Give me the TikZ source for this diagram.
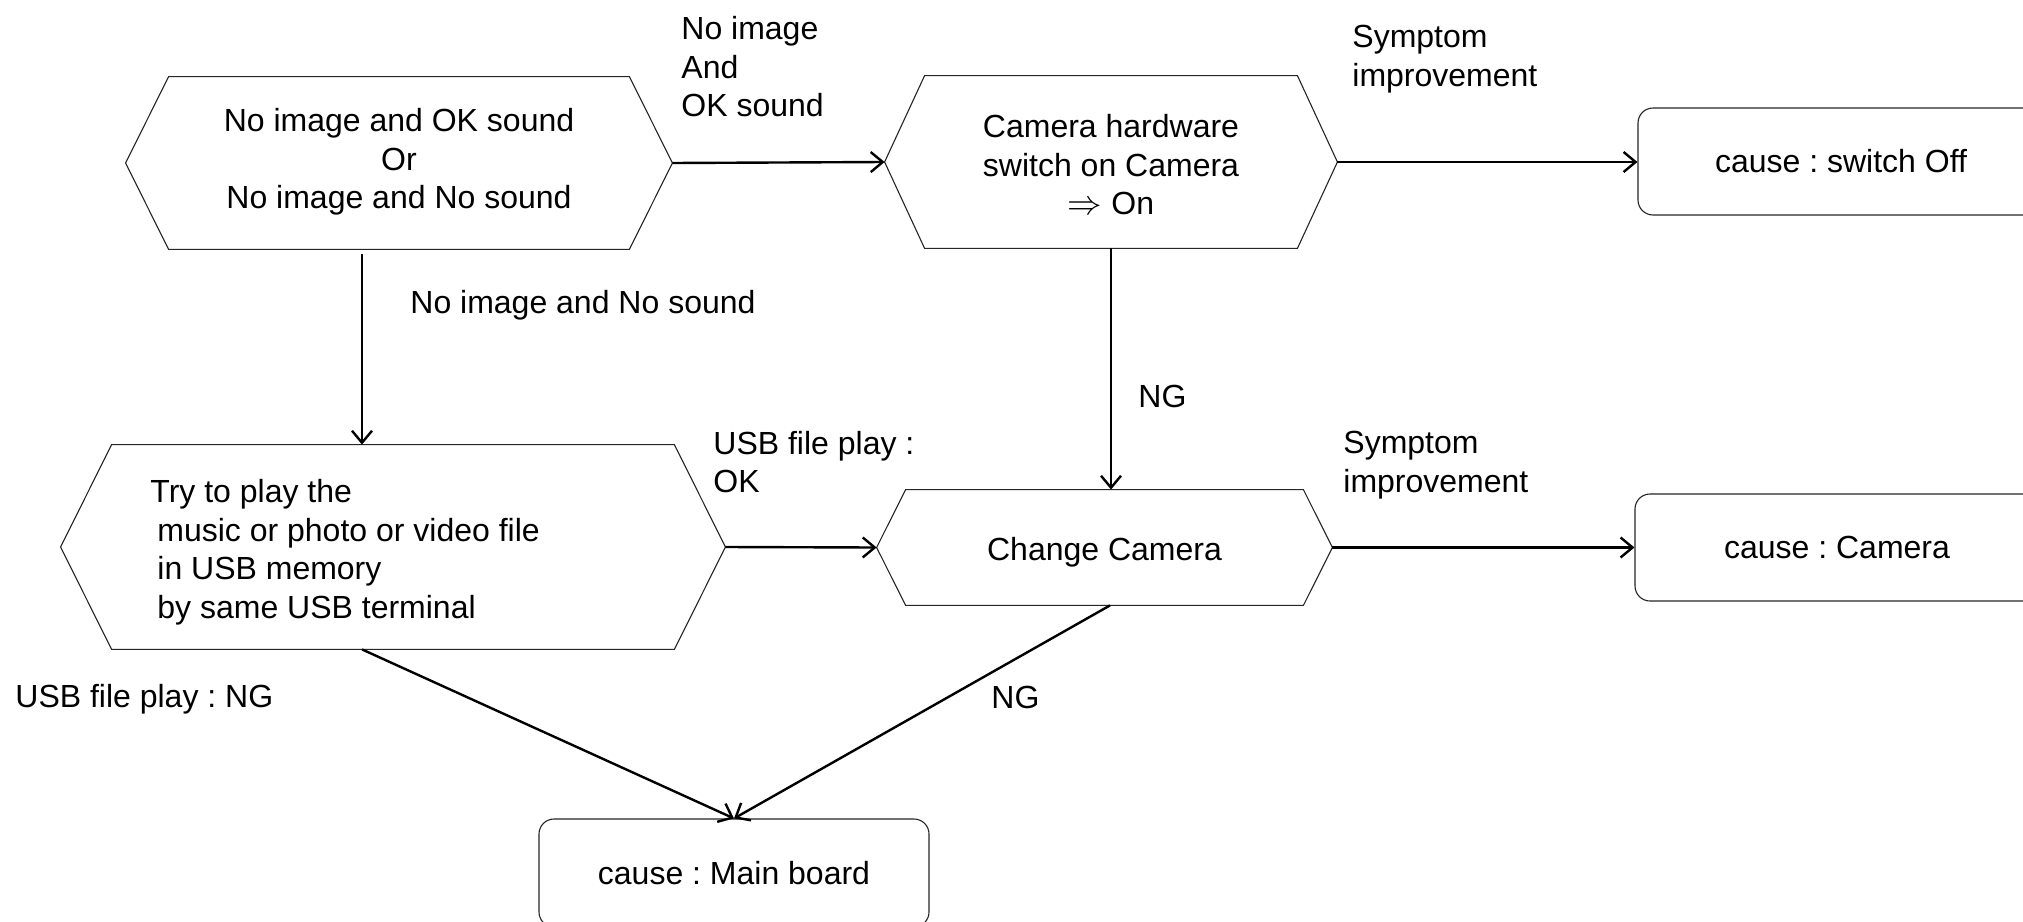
\documentclass[tikz,border=0pt]{standalone}
\usepackage{fontspec}
\setmainfont{Liberation Sans}
\usetikzlibrary{arrows.meta,calc}
\newcommand\hexdraw[2]{\draw[hexline] (#1.west) -- ([xshift=#2]#1.north west) -- ([xshift=-#2]#1.north east) -- (#1.east) -- ([xshift=-#2]#1.south east) -- ([xshift=#2]#1.south west) -- cycle;}
\begin{document}
\frenchspacing
\begin{tikzpicture}[x=0.5pt,y=-0.5pt,
  every node/.style={font=\fontsize{16}{19.25}\selectfont, inner sep=0pt, text=black},
  hexnode/.style={shape=rectangle},
  hexline/.style={draw=black!85, line width=0.55pt},
  causebox/.style={shape=rectangle, draw=black!85, line width=0.55pt, rounded corners=7.5pt, align=center},
  ctext/.style={align=center},
  lbl/.style={anchor=west, align=left},
  arr/.style={draw=black, line width=1.2pt, -{Straight Barb[length=6pt,width=10pt,line width=1.2pt]}}
]
\useasboundingbox[fill=white] (0,0) rectangle (2023,921);

% hexagons
\node[hexnode, minimum width=273pt, minimum height=86pt] (h1) at (399,163) {};
\hexdraw{h1}{21.5pt}
\node[ctext] (h1t) at (399,162) {No image and OK sound\\Or\\No image and No sound};
\node[hexnode, minimum width=226pt, minimum height=86pt] (h2) at (1111,162) {};
\hexdraw{h2}{20pt}
\node[ctext] (h2t) at (1111,165) {Camera hardware\\switch on Camera\\$\Rightarrow$ On};
\node[hexnode, minimum width=332pt, minimum height=102pt] (h3) at (393,547) {};
\hexdraw{h3}{25.5pt}
\node[lbl] (h3t) at (150,552) {Try to play the\\\hspace*{3.5pt}music or photo or video file\\\hspace*{3.5pt}in USB memory\\\hspace*{3.5pt}by same USB terminal};
\node[hexnode, minimum width=227.5pt, minimum height=57.5pt] (h4) at (1104.5,547.5) {};
\hexdraw{h4}{14.5pt}
\node[ctext] (h4t) at (1104.5,552.5) {Change Camera};

% cause boxes
\node[causebox, minimum width=203pt, minimum height=53.5pt] (c1) at (1841,161.5) {cause : switch Off};
\node[causebox, minimum width=202pt, minimum height=53.5pt] (c2) at (1837,547.5) {cause : Camera};
\node[causebox, minimum width=195pt, minimum height=54pt] (c3) at (734,873) {cause : Main board};

% connectors
\draw[arr] (h1.east) -- (h2.west);
\draw[arr] (h2.east) -- (h2.east -| c1.west);
\draw[arr] ([xshift=-18.5pt,yshift=-2.5pt]h1.south) -- ([xshift=-15.5pt]h3.north);
\draw[arr] (h2.south) -- (h2.south |- h4.north);
\draw[arr] (h3.east) -- (h4.west);
\draw[arr] (h4.east) -- (h4.east -| c2.west);
\draw[arr] ([xshift=-15.5pt]h3.south) -- (c3.north);
\draw[arr] ([xshift=2.75pt]h4.south) -- (c3.north);

% labels
\node[lbl] (l1) at (681,67) {No image\\And\\OK sound};
\node[lbl] (l2) at (1352,59) {Symptom\\improvement};
\node[lbl] (l3) at (410,305) {No image and No sound};
\node[lbl] (l4) at (1138,396) {NG};
\node[lbl] (l5) at (713,462) {USB file play :\\OK};
\node[lbl] (l6) at (1343,465) {Symptom\\improvement};
\node[lbl] (l7) at (15,699) {USB file play : NG};
\node[lbl] (l8) at (991,697) {NG};
\end{tikzpicture}
\end{document}
